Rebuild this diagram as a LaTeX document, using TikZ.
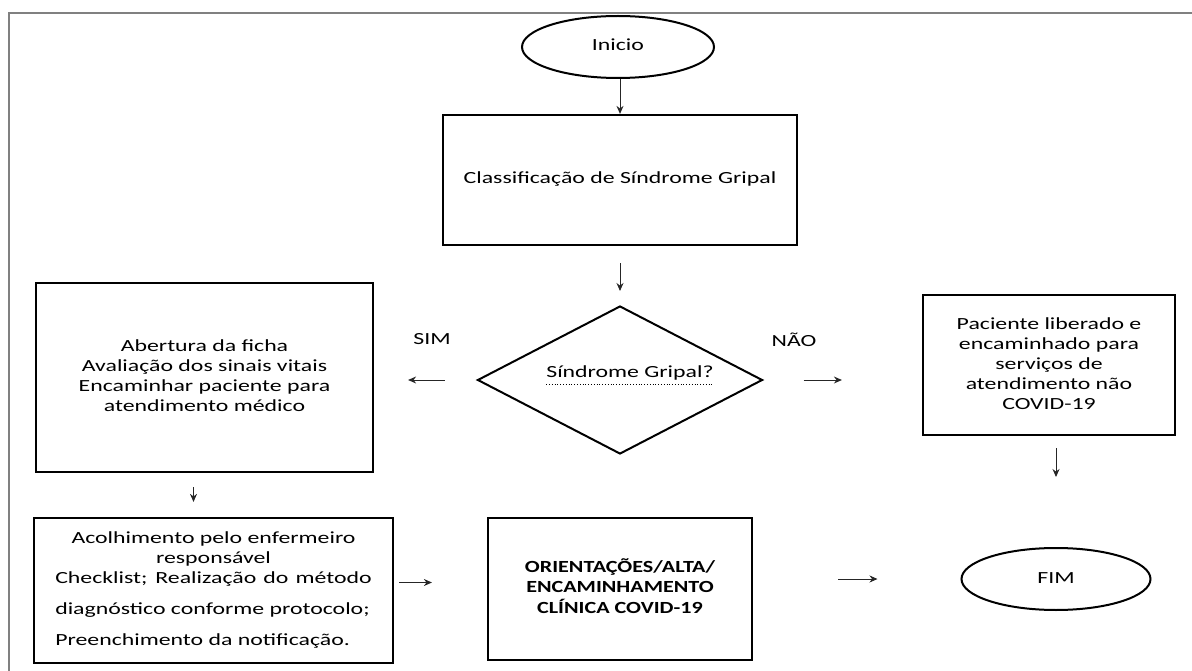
\documentclass[tikz,border=0pt]{standalone}
\usepackage{fontspec}
\setmainfont{Carlito}
\usepackage{graphicx}
\usetikzlibrary{shapes.geometric,arrows.meta}
\newcommand{\wtext}[1]{\scalebox{1.4}[1]{\begin{tabular}{@{}c@{}}#1\end{tabular}}}
\newcommand{\wtextb}[1]{\scalebox{1.3}[1]{\bfseries\begin{tabular}{@{}c@{}}#1\end{tabular}}}
\begin{document}
\begin{tikzpicture}[x=1pt,y=-1pt,
  font=\fontsize{17}{20}\selectfont,
  box/.style={draw, rectangle, line width=2.2pt, inner sep=0pt},
  term/.style={draw, ellipse, line width=2pt, inner sep=0pt},
  decision/.style={draw, diamond, line width=2pt, inner sep=0pt},
  lbl/.style={inner sep=0pt},
  conn/.style={line width=1pt, draw=black!85, -{Stealth[length=8pt,width=7pt]}}]
\useasboundingbox (0,0) rectangle (1192,671);
% page frame
\draw[gray, line width=1.5pt] (9,671) -- (9,13) -- (1192,13);

\node[term, minimum width=192pt, minimum height=62pt] (inicio) at (618,47) {\wtext{Inicio}};
\node[box, minimum width=354pt, minimum height=130pt] (class) at (620,180) {\raisebox{6pt}{\wtext{Classificação de Síndrome Gripal}}};
\node[decision, minimum width=285pt, minimum height=148pt] (dec) at (620,380) {};
\node[lbl] (dtxt) at (630,373) {\wtext{Síndrome Gripal?}};
\draw[dotted, line width=0.8pt] ([yshift=-1pt]dtxt.south west) -- ([yshift=-1pt]dtxt.south east);

\node[box, minimum width=337pt, minimum height=189pt] (abert) at (204.5,377.5)
  {\wtext{Abertura da ficha\\Avaliação dos sinais vitais\\Encaminhar paciente para\\atendimento médico}};
\node[box, minimum width=252pt, minimum height=140pt] (lib) at (1049,365)
  {\wtext{Paciente liberado e\\encaminhado para\\serviços de\\atendimento não\\COVID-19}};
\node[box, minimum width=359pt, minimum height=145pt] (acol) at (213.5,590.5)
  {\scalebox{1.4}[1]{\begin{tabular}{@{}l@{}}
    \makebox[226pt][c]{Acolhimento pelo enfermeiro}\\
    \makebox[226pt][c]{responsável}\\
    \makebox[226pt][s]{Checklist; Realização do método}\\[11pt]
    diagnóstico conforme protocolo;\\[11pt]
    Preenchimento da notificação.
  \end{tabular}}};
\node[box, minimum width=264pt, minimum height=142pt] (orient) at (620,589)
  {\wtextb{ORIENTAÇÕES/ALTA/\\ENCAMINHAMENTO\\CLÍNICA COVID-19}};
\node[term, minimum width=189pt, minimum height=62pt] (fim) at (1056,579) {\wtext{FIM}};

\node[lbl] (sim) at (432,341) {\wtext{SIM}};
\node[lbl] (nao) at (794,342) {\wtext{NÃO}};

% connectors
\draw[conn] (inicio.south -| class.north) -- (class.north);
\draw[conn, shorten <=17pt, shorten >=14pt] (class) -- (dec);
\draw[conn, shorten <=32pt, shorten >=34pt] (dec.west) -- (dec.west -| abert.east);
\draw[conn, shorten <=40pt, shorten >=80pt] (dec.east) -- (dec.east -| lib.west);
\draw[conn, shorten <=12pt, shorten >=70pt] (lib.south -| fim.north) -- (fim.north);
\draw[conn, shorten <=14pt, shorten >=15pt] ([xshift=-11pt]abert.south) -- ([xshift=-11pt]abert.south |- acol.north);
\draw[conn, shorten <=5pt, shorten >=55pt] ([yshift=8pt]acol.east) -- ([yshift=8pt]acol.east -| orient.west);
\draw[conn, shorten <=85pt, shorten >=83pt] (orient.east |- fim.west) -- (fim.west);
\end{tikzpicture}
\end{document}
